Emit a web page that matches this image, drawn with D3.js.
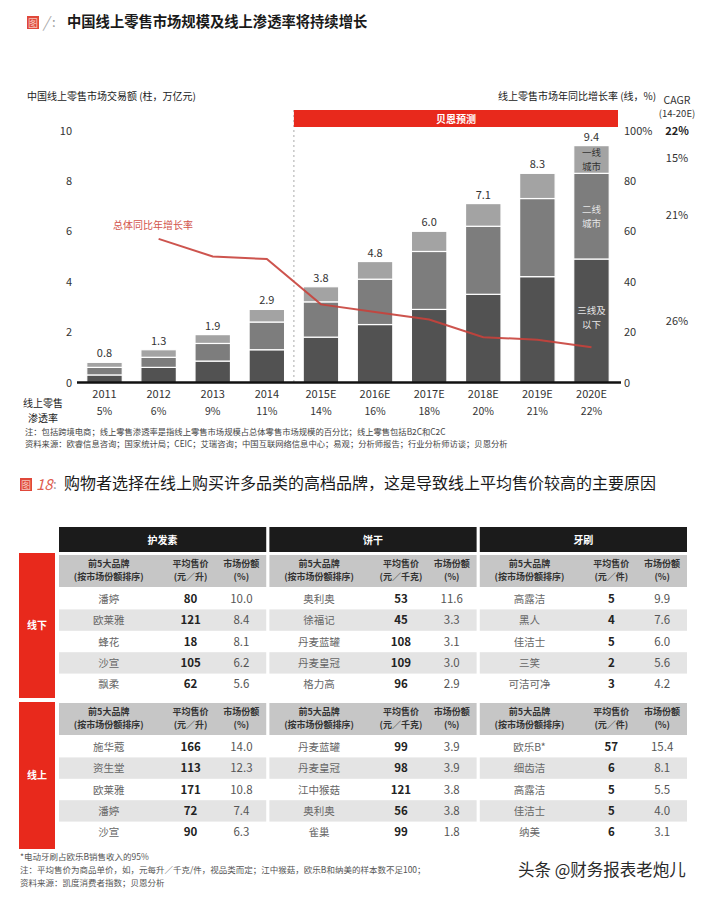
<!DOCTYPE html>
<html>
<head>
<meta charset="utf-8">
<script src="https://cdn.jsdelivr.net/npm/d3@7"></script>
<style>
  body { margin: 0; background: #fff; }
  svg { display: block; font-family: "Noto Sans CJK SC", "Noto Sans", sans-serif; }
</style>
</head>
<body>
<svg id="chart" width="720" height="897"></svg>
<script>
// ---- data: top chart ----
const years = ["2011", "2012", "2013", "2014", "2015E", "2016E", "2017E", "2018E", "2019E", "2020E"];
const tier3 = [0.3, 0.6, 0.85, 1.3, 1.8, 2.3, 2.9, 3.5, 4.2, 4.9];   // 三线及以下
const tier2 = [0.3, 0.4, 0.7, 1.1, 1.4, 1.8, 2.3, 2.7, 3.1, 3.4];    // 二线城市
const tier1 = [0.2, 0.3, 0.35, 0.5, 0.6, 0.7, 0.8, 0.9, 1.0, 1.1];   // 一线城市
const totals = ["0.8", "1.3", "1.9", "2.9", "3.8", "4.8", "6.0", "7.1", "8.3", "9.4"];
const growth = [null, 57, 50, 49, 31, 28, 25, 18, 17, 14];
const penetration = ["5%", "6%", "9%", "11%", "14%", "16%", "18%", "20%", "21%", "22%"];
const tierLabels = [["三线及", "以下"], ["二线", "城市"], ["一线", "城市"]];
const cagrTotal = "22%";
const cagrTiers = ["26%", "21%", "15%"];
const leftTicks = [0, 2, 4, 6, 8, 10];
const rightTicks = [0, 20, 40, 60, 80, 100];

// ---- data: table ----
const categories = ["护发素", "饼干", "牙刷"];
const units = ["(元／升)", "(元／千克)", "(元／件)"];
const channels = ["线下", "线上"];
const brands = [
  [["潘婷", "欧莱雅", "蜂花", "沙宣", "飘柔"], ["奥利奥", "徐福记", "丹麦蓝罐", "丹麦皇冠", "格力高"], ["高露洁", "黑人", "佳洁士", "三笑", "可洁可净"]],
  [["施华蔻", "资生堂", "欧莱雅", "潘婷", "沙宣"], ["丹麦蓝罐", "丹麦皇冠", "江中猴菇", "奥利奥", "雀巢"], ["欧乐B*", "细齿洁", "高露洁", "佳洁士", "纳美"]]
];
const prices = [
  [[80, 121, 18, 105, 62], [53, 45, 108, 109, 96], [5, 4, 5, 2, 3]],
  [[166, 113, 171, 72, 90], [99, 98, 121, 56, 99], [57, 6, 5, 5, 6]]
];
const shares = [
  [["10.0", "8.4", "8.1", "6.2", "5.6"], ["11.6", "3.3", "3.1", "3.0", "2.9"], ["9.9", "7.6", "6.0", "5.6", "4.2"]],
  [["14.0", "12.3", "10.8", "7.4", "6.3"], ["3.9", "3.9", "3.8", "3.8", "1.8"], ["15.4", "8.1", "5.5", "4.0", "3.1"]]
];

const svg = d3.select("#chart");

// ---- titles ----
function figLabel(x, y, num) {
  svg.append("rect").attr("x", x).attr("y", y - 11).attr("width", 12).attr("height", 13)
    .attr("fill", "#e0483a");
  svg.append("text").attr("x", x + 6).attr("y", y).attr("text-anchor", "middle")
    .attr("font-size", 10).attr("fill", "#f6c4bb").text("图");
  svg.append("text").attr("x", x + 16).attr("y", y + 1).attr("font-size", 15)
    .attr("font-style", "italic").attr("fill", num === "/" ? "#aaa" : "#e06050").text(num);
  svg.append("text").attr("x", x + (num === "/" ? 25 : 33)).attr("y", y).attr("font-size", 13)
    .attr("fill", "#999").text(":");
}
figLabel(27, 27, "/");
svg.append("text").attr("x", 67).attr("y", 27).attr("font-size", 14.3).attr("font-weight", "bold")
  .attr("fill", "#1a1a1a").text("中国线上零售市场规模及线上渗透率将持续增长");

// ---- top chart ----
const x = d3.scaleBand().domain(years).range([78, 618]).paddingInner(0.344).paddingOuter(0.162);
const y = d3.scaleLinear().domain([0, 10]).range([382.5, 130.5]);
const yR = d3.scaleLinear().domain([0, 100]).range([382.5, 130.5]);

svg.append("text").attr("x", 27).attr("y", 100).attr("font-size", 10).attr("fill", "#222")
  .text("中国线上零售市场交易额 (柱，万亿元)");
svg.append("text").attr("x", 498).attr("y", 100).attr("font-size", 10).attr("fill", "#222")
  .text("线上零售市场年同比增长率 (线，%)");

// forecast band + divider
const divX = x("2015E") - x.step() * x.paddingInner() / 2;
svg.append("line").attr("x1", divX).attr("x2", divX).attr("y1", 110).attr("y2", 382)
  .attr("stroke", "#aaa").attr("stroke-dasharray", "2,3");
svg.append("rect").attr("x", divX).attr("y", 110).attr("width", 618 - divX).attr("height", 17)
  .attr("fill", "#e8291c");
svg.append("text").attr("x", (divX + 618) / 2).attr("y", 122.5).attr("text-anchor", "middle")
  .attr("font-size", 10).attr("font-weight", "bold").attr("fill", "#fff").text("贝恩预测");

// stacked bars
const rows = years.map((yr, i) => ({ year: yr, t3: tier3[i], t2: tier2[i], t1: tier1[i] }));
const stack = d3.stack().keys(["t3", "t2", "t1"])(rows);
const tierColors = ["#525252", "#7d7d7d", "#a3a3a3"];

svg.append("g").selectAll("g").data(stack).join("g")
  .attr("fill", (d, i) => tierColors[i])
  .selectAll("rect").data(d => d).join("rect")
  .attr("x", d => x(d.data.year))
  .attr("y", d => y(d[1]))
  .attr("width", x.bandwidth())
  .attr("height", d => y(d[0]) - y(d[1]))
  .attr("stroke", "#fff").attr("stroke-width", 1.2);

svg.append("g").selectAll("text").data(years).join("text")
  .attr("x", d => x(d) + x.bandwidth() / 2)
  .attr("y", (d, i) => y(tier1[i] + tier2[i] + tier3[i]) - 5)
  .attr("text-anchor", "middle").attr("font-size", 11).attr("fill", "#333")
  .text((d, i) => totals[i]);

// tier labels in last bar
const last = years.length - 1;
const lastX = x(years[last]) + x.bandwidth() / 2;
stack.forEach((s, k) => {
  const d = s[last];
  const cy = (y(d[0]) + y(d[1])) / 2;
  tierLabels[k].forEach((ln, j) => {
    svg.append("text").attr("x", lastX)
      .attr("y", cy + (k === 0 ? -3 : 0) + (j - 0.5) * 14 + 3.5)
      .attr("text-anchor", "middle").attr("font-size", 9.5)
      .attr("fill", k === 2 ? "#333" : "#e6e6e6").text(ln);
  });
  svg.append("text").attr("x", 677).attr("y", cy + (k === 0 ? 4 : 3))
    .attr("text-anchor", "middle").attr("font-size", 11).attr("fill", "#333").text(cagrTiers[k]);
});

// CAGR header
svg.append("text").attr("x", 677).attr("y", 104).attr("text-anchor", "middle")
  .attr("font-size", 10.5).attr("fill", "#333").text("CAGR");
svg.append("text").attr("x", 677).attr("y", 116.5).attr("text-anchor", "middle")
  .attr("font-size", 9.5).attr("fill", "#333").text("(14-20E)");
svg.append("text").attr("x", 677).attr("y", yR(100) + 4).attr("text-anchor", "middle")
  .attr("font-size", 11).attr("font-weight", "bold").attr("fill", "#222").text(cagrTotal);

// growth line
const line = d3.line().defined(d => d[1] != null)
  .x(d => x(d[0]) + x.bandwidth() / 2).y(d => yR(d[1]));
svg.append("path").datum(years.map((yr, i) => [yr, growth[i]]))
  .attr("d", line).attr("fill", "none").attr("stroke", "#c8413b").attr("stroke-width", 2)
  .attr("stroke-opacity", 0.9);
svg.append("text").attr("x", 113).attr("y", 229).attr("font-size", 10).attr("fill", "#d2544c")
  .text("总体同比年增长率");

// axes
const axL = svg.append("g").attr("transform", "translate(75,0)")
  .call(d3.axisLeft(y).tickValues(leftTicks).tickSize(0).tickPadding(3));
const axR = svg.append("g").attr("transform", "translate(620,0)")
  .call(d3.axisRight(yR).tickValues(rightTicks).tickSize(0).tickPadding(4)
    .tickFormat(d => d === 100 ? "100%" : d));
const axB = svg.append("g").attr("transform", "translate(0,383)")
  .call(d3.axisBottom(x).tickSize(0).tickPadding(7));
[axL, axR, axB].forEach(a => {
  a.select(".domain").remove();
  a.selectAll("text").attr("font-size", 11).attr("fill", "#333")
    .attr("font-family", "\"Noto Sans CJK SC\", \"Noto Sans\", sans-serif");
});
svg.append("line").attr("x1", 77).attr("x2", 621).attr("y1", 382.5).attr("y2", 382.5)
  .attr("stroke", "#111").attr("stroke-width", 2.5);

// penetration row
svg.append("text").attr("x", 43).attr("y", 407).attr("text-anchor", "middle")
  .attr("font-size", 10).attr("fill", "#222").text("线上零售");
svg.append("text").attr("x", 43).attr("y", 421.5).attr("text-anchor", "middle")
  .attr("font-size", 10).attr("fill", "#222").text("渗透率");
svg.append("g").selectAll("text").data(years).join("text")
  .attr("x", d => x(d) + x.bandwidth() / 2).attr("y", 415)
  .attr("text-anchor", "middle").attr("font-size", 10.5).attr("fill", "#333")
  .text((d, i) => penetration[i]);

svg.append("text").attr("x", 25).attr("y", 435).attr("font-size", 8.3).attr("fill", "#444")
  .text("注：包括跨境电商；线上零售渗透率是指线上零售市场规模占总体零售市场规模的百分比；线上零售包括B2C和C2C");
svg.append("text").attr("x", 25).attr("y", 446.5).attr("font-size", 8.3).attr("fill", "#444")
  .text("资料来源：欧睿信息咨询；国家统计局；CEIC；艾瑞咨询；中国互联网络信息中心；易观；分析师报告；行业分析师访谈；贝恩分析");

// ---- table ----
figLabel(20, 489, "18");
svg.append("text").attr("x", 64).attr("y", 489).attr("font-size", 16).attr("fill", "#1a1a1a")
  .text("购物者选择在线上购买许多品类的高档品牌，这是导致线上平均售价较高的主要原因");

const bx = d3.scaleBand().domain(categories).range([59, 687]).paddingInner(0.015);
const colPos = [0.24, 0.635, 0.88];
const sectionTop = [555, 703];
const headerH = 32;
const rowH = 21.4;
const redBlocks = [[553, 698], [702, 849]];

// black category headers
categories.forEach(c => {
  svg.append("rect").attr("x", bx(c)).attr("y", 527).attr("width", bx.bandwidth()).attr("height", 25)
    .attr("fill", "#1b1b1b");
  svg.append("text").attr("x", bx(c) + bx.bandwidth() / 2).attr("y", 543.5)
    .attr("text-anchor", "middle").attr("font-size", 10).attr("font-weight", "bold")
    .attr("fill", "#fff").text(c);
});

channels.forEach((ch, s) => {
  const [r0, r1] = redBlocks[s];
  svg.append("rect").attr("x", 19).attr("y", r0).attr("width", 36).attr("height", r1 - r0)
    .attr("fill", "#e8291c");
  svg.append("text").attr("x", 37).attr("y", (r0 + r1) / 2 + 3.5).attr("text-anchor", "middle")
    .attr("font-size", 10).attr("font-weight", "bold").attr("fill", "#fff").text(ch);

  const top = sectionTop[s];
  const ry = d3.scaleBand().domain(d3.range(5)).range([top + headerH + 1, top + headerH + 1 + rowH * 5]);

  categories.forEach((c, ci) => {
    const bx0 = bx(c), bw = bx.bandwidth();
    svg.append("rect").attr("x", bx0).attr("y", top).attr("width", bw).attr("height", headerH)
      .attr("fill", "#c6c6c6");
    const heads = [["前5大品牌", "(按市场份额排序)"], ["平均售价", units[ci]], ["市场份额", "(%)"]];
    heads.forEach((h, k) => {
      h.forEach((ln, j) => {
        svg.append("text").attr("x", bx0 + bw * colPos[k]).attr("y", top + 12 + j * 13)
          .attr("text-anchor", "middle").attr("font-size", 9).attr("font-weight", "bold")
          .attr("fill", "#333").text(ln);
      });
    });
    d3.range(5).forEach(r => {
      if (r % 2 === 1) {
        svg.append("rect").attr("x", bx0).attr("y", ry(r)).attr("width", bw).attr("height", ry.bandwidth())
          .attr("fill", "#e4e4e4");
      }
      const cy = ry(r) + ry.bandwidth() / 2 + 4;
      svg.append("text").attr("x", bx0 + bw * colPos[0]).attr("y", cy).attr("text-anchor", "middle")
        .attr("font-size", 10.5).attr("fill", "#666").text(brands[s][ci][r]);
      svg.append("text").attr("x", bx0 + bw * colPos[1]).attr("y", cy).attr("text-anchor", "middle")
        .attr("font-size", 11.5).attr("font-weight", "bold").attr("fill", "#222").text(prices[s][ci][r]);
      svg.append("text").attr("x", bx0 + bw * colPos[2]).attr("y", cy).attr("text-anchor", "middle")
        .attr("font-size", 11.5).attr("fill", "#555").text(shares[s][ci][r]);
    });
  });
});

svg.append("text").attr("x", 20).attr("y", 860).attr("font-size", 8.5).attr("fill", "#555")
  .text("*电动牙刷占欧乐B销售收入的95%");
svg.append("text").attr("x", 20).attr("y", 873).attr("font-size", 8.5).attr("fill", "#555")
  .text("注：平均售价为商品单价，如，元每升／千克/件，视品类而定；江中猴菇，欧乐B和纳美的样本数不足100；");
svg.append("text").attr("x", 20).attr("y", 886).attr("font-size", 8.5).attr("fill", "#555")
  .text("资料来源：凯度消费者指数；贝恩分析");

svg.append("text").attr("x", 518).attr("y", 876).attr("font-size", 16.5).attr("fill", "#2a2a2a")
  .text("头条 @财务报表老炮儿");
</script>
</body>
</html>
